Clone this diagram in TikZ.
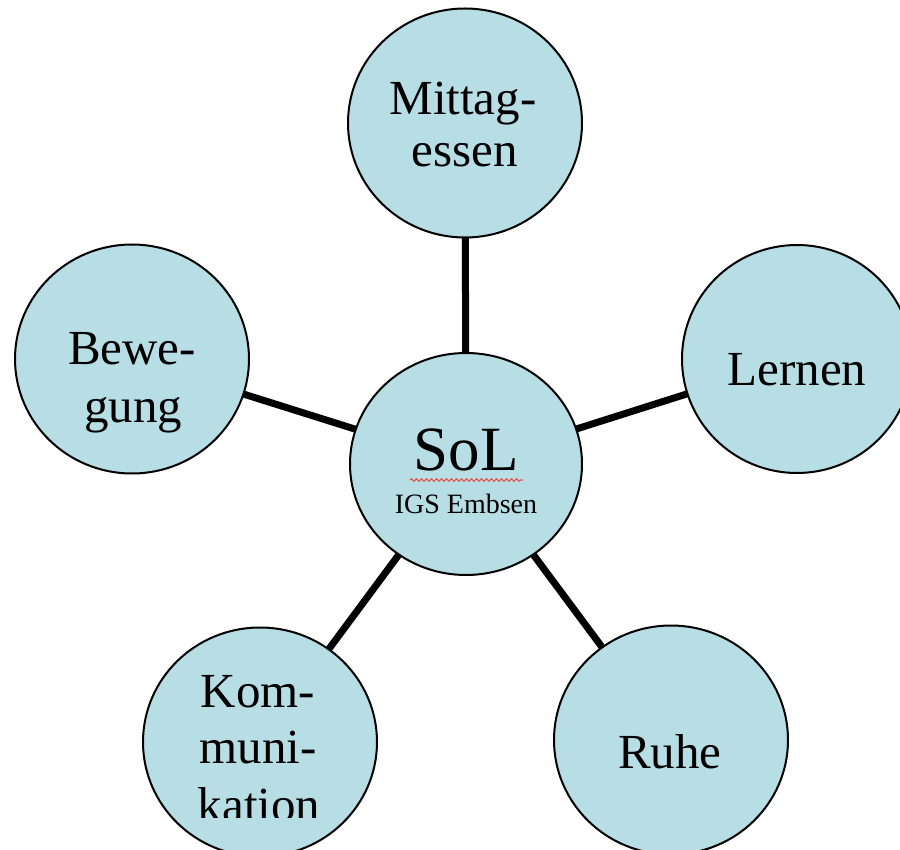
\documentclass[tikz,border=0pt]{standalone}
\usepackage{fontspec}
\setmainfont{Liberation Serif}
\usetikzlibrary{shapes.geometric,backgrounds,decorations.pathmorphing}
\definecolor{bubble}{RGB}{183,222,229}
\definecolor{spell}{RGB}{225,90,90}
\begin{document}
\begin{tikzpicture}[x=1pt,y=-1pt,
  bubblenode/.style={ellipse,draw=black,line width=2pt,fill=bubble,inner sep=0pt,
    minimum width=234pt,minimum height=229pt},
  centernode/.style={bubblenode,minimum width=232pt,minimum height=222pt},
  spoke/.style={line width=7pt,black},
  lbl/.style={anchor=base,inner sep=0pt,font=\fontsize{49}{55}\selectfont}
]
\useasboundingbox (0,0) rectangle (900,850);
\begin{scope}
\clip (0,0) rectangle (900,850);
\node[bubblenode] (mitt) at (465,123) {};
\node[bubblenode,minimum width=230pt,minimum height=228pt] (lern) at (797,359) {};
\node[bubblenode] (bew) at (132,359) {};
\node[bubblenode] (kom) at (260,742) {};
\node[bubblenode] (ruhe) at (671,740) {};
\node[centernode] (sol) at (466,464) {};
\end{scope}
\begin{scope}[on background layer]
\draw[spoke] (sol.center) -- (mitt.center);
\draw[spoke] (sol.center) -- (lern.center);
\draw[spoke] (sol.center) -- (bew.center);
\draw[spoke] (sol.center) -- (kom.center);
\draw[spoke] (sol.center) -- (ruhe.center);
\end{scope}
% labels
\node[lbl] (t1a) at (463,115) {Mittag-};
\node[lbl] (t1b) at (465,167) {essen};
\node[lbl] (t2a) at (132,365) {Bewe-};
\node[lbl] (t2b) at (133,422) {gung};
\node[lbl] (t3) at (797,385) {Lernen};
\node[lbl] (t4a) at (258,707) {Kom-};
\node[lbl] (t4b) at (258,763) {muni-};
\begin{scope}
\clip (100,780) rectangle (420,817);
\node[lbl] (t4c) at (259,821) {kation};
\end{scope}
\node[lbl] (t5) at (670,768) {Ruhe};
\node[anchor=base,inner sep=0pt,font=\fontsize{63}{70}\selectfont] (t6) at (466,470) {SoL};
\node[anchor=base,inner sep=0pt,font=\fontsize{28}{32}\selectfont] (t7) at (466,513) {IGS Embsen};
\coordinate (w1) at (410,480);
\coordinate (w2) at (523,480);
\draw[spell,line width=1.2pt,decorate,decoration={snake,amplitude=1.3pt,segment length=5pt}] (w1) -- (w2);
\end{tikzpicture}
\end{document}
